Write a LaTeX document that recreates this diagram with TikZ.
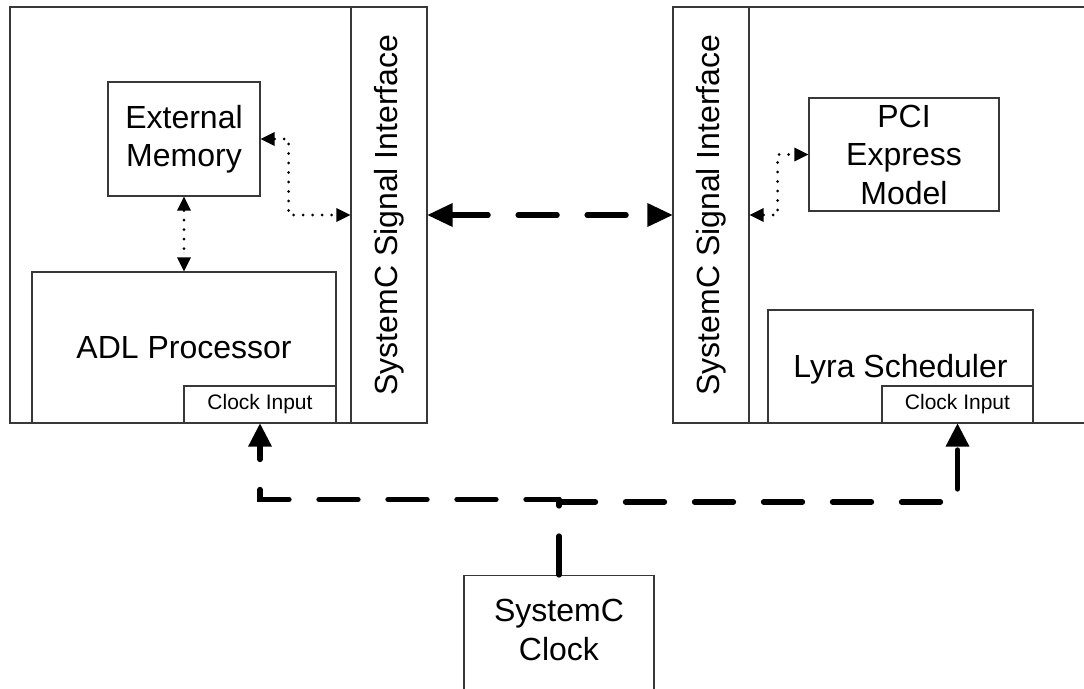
\documentclass[tikz,border=0pt]{standalone}
\usepackage{fontspec}
\setmainfont{Liberation Sans}
\usetikzlibrary{arrows.meta}

\tikzset{
  box/.style={draw=black!78, line width=1.2pt, inner sep=0pt},
  bigtext/.style={font=\fontsize{32}{38.5}\selectfont, align=center, inner sep=0pt},
  smalltext/.style={font=\fontsize{21}{25}\selectfont, inner sep=0pt},
  clockline/.style={line width=5.3pt, line cap=round, line join=miter,
    dash pattern=on 39pt off 30pt},
  clocktip/.style={-{Triangle[length=23pt,width=24pt,line width=0pt]}},
  linkline/.style={line width=5.3pt, line cap=round,
    dash pattern=on 39pt off 30pt, dash phase=3.5pt,
    {Triangle[length=25pt,width=24pt,line width=0pt]}-{Triangle[length=25pt,width=24pt,line width=0pt]}},
  dotline/.style={line width=3.2pt, line cap=round,
    dash pattern=on 0pt off 9.5pt,
    {Triangle[length=14pt,width=14pt,line width=0pt]}-{Triangle[length=14pt,width=14pt,line width=0pt]}},
}

\begin{document}
\begin{tikzpicture}[x=1pt,y=-1pt]
\useasboundingbox (0,0) rectangle (1084,688);

% left host: processor side
\node[box, minimum width=417pt, minimum height=416pt] (lhost) at (218.5,215) {};
\node[box, minimum width=76pt, minimum height=416pt] (lsig) at (389,215) {};
\node[bigtext, rotate=90] (lsiglbl) at (lsig.center) {SystemC Signal Interface};
\node[box, bigtext, minimum width=152pt, minimum height=114pt] (em) at (184,139) {External\\Memory};
\node[box, bigtext, minimum width=304pt, minimum height=151pt] (adl) at (184,347.5) {ADL Processor};
\node[box, smalltext, minimum width=152pt, minimum height=37pt] (lclk) at (260,404.5) {Clock Input};

% right host: scheduler side (runs off the page on the right)
\node[box, minimum width=437pt, minimum height=416pt] (rhost) at (891.5,215) {};
\node[box, minimum width=76pt, minimum height=416pt] (rsig) at (711,215) {};
\node[bigtext, rotate=90] (rsiglbl) at (rsig.center) {SystemC Signal Interface};
\node[box, bigtext, minimum width=190pt, minimum height=113pt] (pci) at (904,154.5) {PCI\\Express\\Model};
\node[box, minimum width=265pt, minimum height=113pt] (lyra) at (900.5,366.5) {};
\node[bigtext] (lyralbl) at (900.5,369) {Lyra Scheduler};
\node[box, smalltext, minimum width=151pt, minimum height=37pt] (rclk) at (957.5,404.5) {Clock Input};

% clock source (bottom edge below the page)
\node[box, minimum width=190pt, minimum height=130pt, anchor=north] (sysclk) at (559,575) {};
\node[bigtext] (sysclklbl) at (559,630) {SystemC\\Clock};

% local dotted links
\draw[dotline] (em.east) -- ++(28,0) |- (lsig.west);
\draw[dotline] (em.south) -- (adl.north);
\draw[dotline] (rsig.east) -- ++(28,0) |- (pci.west);

% signal link between the two interfaces
\draw[linkline] (lsig.east) -- (rsig.west);

% clock distribution
\coordinate (jl) at (559,499.5);
\coordinate (jr) at (559,502);
\draw[clockline] (sysclk.north) -- (jl);
\draw[clockline, clocktip, dash phase=6pt] (jl) -| (lclk.south);
\draw[clockline, clocktip, dash phase=2.5pt] (jr) -| (rclk.south);
\end{tikzpicture}
\end{document}
